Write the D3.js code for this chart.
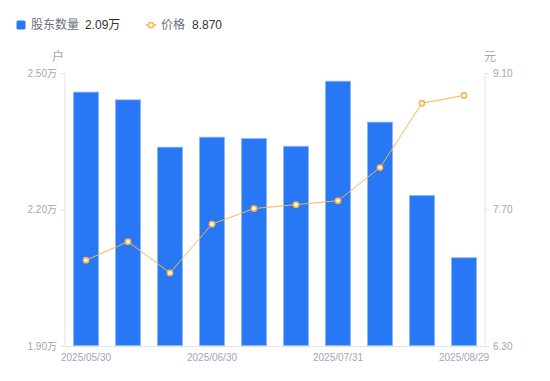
<!DOCTYPE html>
<html>
<head>
<meta charset="utf-8">
<script src="https://cdn.jsdelivr.net/npm/d3@7"></script>
<style>
  body { margin: 0; background: #fff; font-family: "Liberation Sans", "Noto Sans CJK SC", sans-serif; }
  #chart { width: 550px; height: 381px; }
</style>
</head>
<body>
<div id="chart"></div>
<script>
// dates (only every 3rd is labelled on the axis)
const dates = ["2025/05/30", "2025/06/10", "2025/06/20", "2025/06/30", "2025/07/10",
  "2025/07/20", "2025/07/31", "2025/08/10", "2025/08/20", "2025/08/29"];
// shareholders, in 万户
const holders = [2.458, 2.441, 2.337, 2.359, 2.356, 2.339, 2.482, 2.392, 2.231, 2.094];
// price, 元
const prices = [7.18, 7.37, 7.05, 7.55, 7.71, 7.75, 7.79, 8.13, 8.79, 8.87];
const holderTicks = [1.90, 2.20, 2.50];
const priceTicks = [6.30, 7.70, 9.10];

const width = 550, height = 381;
const margin = { top: 73, right: 65, bottom: 35, left: 65 };
const font = "'Liberation Sans', 'Noto Sans CJK SC', sans-serif";
const barColor = "#2878f5";
const lineColor = "#f9b54a";
const tickColor = "#a1a5b7";
const axisColor = "#e3e3e6";

const svg = d3.select("#chart").append("svg")
  .attr("width", width)
  .attr("height", height)
  .attr("font-family", font);

const x = d3.scaleBand()
  .domain(dates)
  .range([margin.left, width - margin.right])
  .paddingInner(0.4)
  .paddingOuter(0.2);

const yLeft = d3.scaleLinear()
  .domain([1.90, 2.50])
  .range([height - margin.bottom, margin.top]);

const yRight = d3.scaleLinear()
  .domain([6.30, 9.10])
  .range([height - margin.bottom, margin.top]);

// legend
const legend = svg.append("g").attr("font-size", 12).attr("dominant-baseline", "central");
legend.append("rect")
  .attr("x", 16.5).attr("y", 20.5).attr("width", 9).attr("height", 9)
  .attr("rx", 1.5).attr("fill", barColor);
legend.append("text").attr("x", 31).attr("y", 25).attr("fill", "#6b6f7d").text("股东数量");
legend.append("text").attr("x", 85).attr("y", 25).attr("fill", "#333").text(holders[holders.length - 1].toFixed(2) + "万");
legend.append("line")
  .attr("x1", 146).attr("x2", 156).attr("y1", 25).attr("y2", 25)
  .attr("stroke", lineColor).attr("stroke-width", 1.5);
legend.append("circle")
  .attr("cx", 151).attr("cy", 25).attr("r", 2.6)
  .attr("fill", "#fff").attr("stroke", lineColor).attr("stroke-width", 1.5);
legend.append("text").attr("x", 161).attr("y", 25).attr("fill", "#6b6f7d").text("价格");
legend.append("text").attr("x", 192).attr("y", 25).attr("fill", "#333").text(prices[prices.length - 1].toFixed(3));

// left axis
const leftAxis = svg.append("g")
  .attr("transform", `translate(${margin.left},0)`)
  .call(d3.axisLeft(yLeft).tickValues(holderTicks).tickSize(4).tickPadding(4)
    .tickFormat(d => d.toFixed(2) + "万"));
leftAxis.select(".domain").remove();
leftAxis.append("line")
  .attr("x1", 0).attr("x2", 0)
  .attr("y1", margin.top).attr("y2", height - margin.bottom)
  .attr("stroke", axisColor);

// right axis
const rightAxis = svg.append("g")
  .attr("transform", `translate(${width - margin.right},0)`)
  .call(d3.axisRight(yRight).tickValues(priceTicks).tickSize(4).tickPadding(4)
    .tickFormat(d => d.toFixed(2)));
rightAxis.select(".domain").remove();
rightAxis.append("line")
  .attr("x1", 0).attr("x2", 0)
  .attr("y1", margin.top).attr("y2", height - margin.bottom)
  .attr("stroke", axisColor);

[leftAxis, rightAxis].forEach(g => {
  g.selectAll(".tick line").attr("stroke", axisColor);
  g.selectAll(".tick text").attr("fill", tickColor).attr("font-size", 10)
    .attr("font-family", font);
});

// axis units
svg.append("text").attr("x", 58).attr("y", 57).attr("text-anchor", "middle")
  .attr("dominant-baseline", "central").attr("font-size", 12).attr("fill", tickColor).text("户");
svg.append("text").attr("x", 490).attr("y", 57).attr("text-anchor", "middle")
  .attr("dominant-baseline", "central").attr("font-size", 12).attr("fill", tickColor).text("元");

// bottom axis
const bottomAxis = svg.append("g")
  .attr("transform", `translate(0,${height - margin.bottom})`)
  .call(d3.axisBottom(x).tickSize(0).tickPadding(8)
    .tickValues(dates.filter((d, i) => i % 3 === 0)));
bottomAxis.select(".domain").attr("stroke", axisColor);
bottomAxis.selectAll(".tick text").attr("fill", tickColor).attr("font-size", 10)
  .attr("font-family", font);

// bars
svg.selectAll(".bar")
  .data(holders)
  .enter()
  .append("rect")
  .attr("class", "bar")
  .attr("x", (d, i) => x(dates[i]))
  .attr("width", x.bandwidth())
  .attr("y", d => yLeft(d))
  .attr("height", d => yLeft(1.90) - yLeft(d) - 0.5)
  .attr("fill", barColor)
  .attr("stroke", "#8fbaf9")
  .attr("stroke-width", 0.8);

// price line
const cx = (d, i) => x(dates[i]) + x.bandwidth() / 2;
svg.append("path")
  .datum(prices)
  .attr("d", d3.line().x(cx).y(d => yRight(d)))
  .attr("fill", "none")
  .attr("stroke", lineColor)
  .attr("stroke-width", 1);

svg.selectAll(".pt")
  .data(prices)
  .enter()
  .append("circle")
  .attr("class", "pt")
  .attr("cx", cx)
  .attr("cy", d => yRight(d))
  .attr("r", 2.6)
  .attr("fill", "#fff")
  .attr("stroke", lineColor)
  .attr("stroke-width", 1.6);
</script>
</body>
</html>
